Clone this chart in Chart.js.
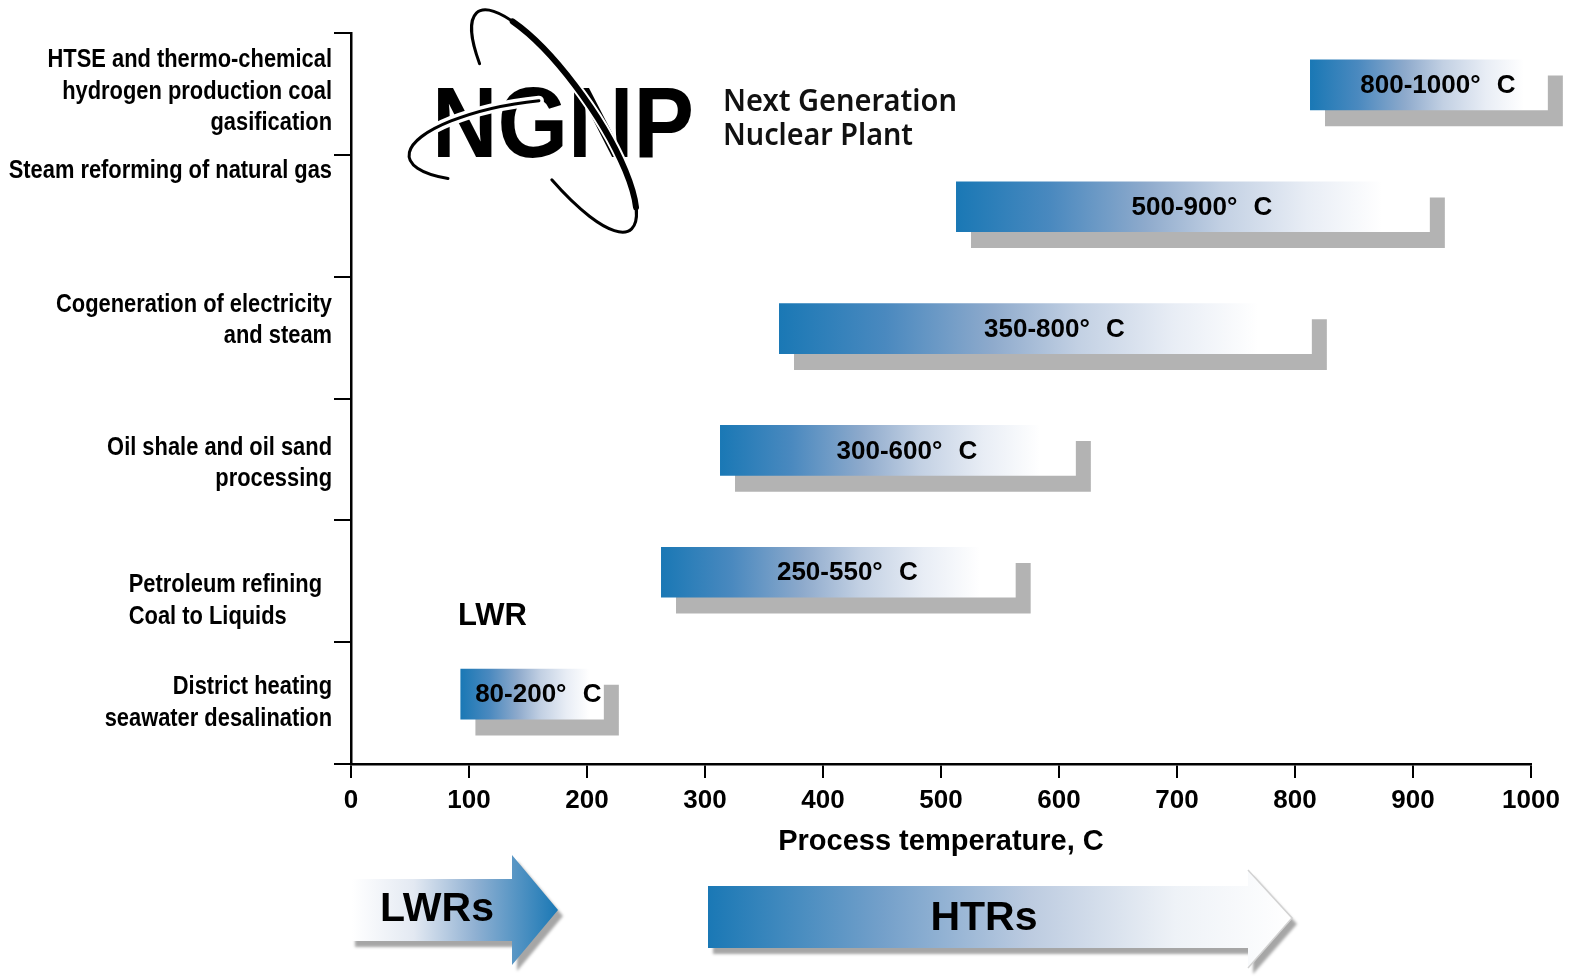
<!DOCTYPE html>
<html>
<head>
<meta charset="utf-8">
<script src="https://cdn.jsdelivr.net/npm/chart.js@4.4.1/dist/chart.umd.min.js"></script>
<style>
  html, body { margin: 0; padding: 0; background: #fff; }
  #wrap { width: 1576px; height: 980px; }
</style>
</head>
<body>
<div id="wrap"><canvas id="chart" width="1576" height="980"></canvas></div>
<script>
// Process heat applications, top to bottom
const applications = [
  ['HTSE and thermo-chemical', 'hydrogen production coal', 'gasification'],
  ['Steam reforming of natural gas'],
  ['Cogeneration of electricity', 'and steam'],
  ['Oil shale and oil sand', 'processing'],
  ['Petroleum refining', 'Coal to Liquids'],
  ['District heating', 'seawater desalination']
];

// bar ends as drawn (C)
const rangeStart = [813, 513, 363, 313, 263, 93];
const rangeEnd = [1014, 914, 814, 614, 563, 214];

// text printed on each bar
const rangeText = ['800-1000° C', '500-900° C', '350-800° C', '300-600° C', '250-550° C', '80-200° C'];

// temperature axis
const tempMin = 0;
const tempMax = 1000;
const tempStep = 100;

const SANS = '"Liberation Sans", Arial, sans-serif';
const BLUE = '#1a78b5';
const BAR_LIFT = -9;
// category label placement: vertical nudge (px) and which labels are left aligned
const labelNudge = [-2, -45, -17, 4, 20, 0];
const labelLeftAligned = [false, false, false, false, true, false];
const LABEL_SQUEEZE = 0.875;
const LABEL_LINE = 31.5;

/**
 * Blue-to-white fill running along each bar
 */
function barGradient(context) {
  const chart = context.chart;
  if (!chart.chartArea || !context.raw) return BLUE;
  const x0 = chart.scales.x.getPixelForValue(context.raw[0]);
  const x1 = chart.scales.x.getPixelForValue(context.raw[1]);
  const g = chart.ctx.createLinearGradient(x0, 0, x1, 0);
  g.addColorStop(0, BLUE);
  g.addColorStop(0.2, '#4a89bf');
  g.addColorStop(0.4, '#8eaacc');
  g.addColorStop(0.56, '#c2d0e3');
  g.addColorStop(0.74, '#e8edf5');
  g.addColorStop(0.9, '#ffffff');
  g.addColorStop(1, '#ffffff');
  return g;
}

/**
 * Grey drop shadow behind the bars plus the range text on them
 */
const barShadow = {
  id: 'barShadow',
  beforeDatasetsDraw(chart) {
    const ctx = chart.ctx;
    const dpr = chart.currentDevicePixelRatio || 1;
    ctx.save();
    ctx.translate(0, BAR_LIFT);
    ctx.shadowColor = '#b3b3b3';
    ctx.shadowBlur = 0;
    ctx.shadowOffsetX = 15 * dpr;
    ctx.shadowOffsetY = 16 * dpr;
  },
  afterDatasetsDraw(chart) {
    const ctx = chart.ctx;
    ctx.restore();

    const meta = chart.getDatasetMeta(0);
    ctx.save();
    ctx.font = 'bold 26px ' + SANS;
    ctx.fillStyle = '#000';
    ctx.textAlign = 'center';
    ctx.textBaseline = 'middle';
    ctx.wordSpacing = '9px';
    meta.data.forEach((bar, i) => {
      const { x, base, y } = bar.getProps(['x', 'base', 'y'], true);
      const w = ctx.measureText(rangeText[i]).width;
      const shift = Math.min(9, (x - base - w) / 2 - 2);
      ctx.fillText(rangeText[i], (x + base) / 2 + shift, y + BAR_LIFT + 1);
    });
    ctx.restore();
  }
};

/**
 * Category labels in a condensed bold face, placed from the y scale
 */
const categoryLabels = {
  id: 'categoryLabels',
  afterDraw(chart) {
    const ctx = chart.ctx;
    const yScale = chart.scales.y;
    const right = yScale.right - 19;
    ctx.save();
    ctx.font = 'bold 25px ' + SANS;
    ctx.fillStyle = '#000';
    ctx.textBaseline = 'middle';
    applications.forEach((lines, i) => {
      const yc = yScale.getPixelForValue(i) + labelNudge[i];
      const y0 = yc - (lines.length - 1) / 2 * LABEL_LINE;
      const widest = Math.max(...lines.map(l => ctx.measureText(l).width));
      ctx.save();
      ctx.translate(right, 0);
      ctx.scale(LABEL_SQUEEZE, 1);
      lines.forEach((line, k) => {
        if (labelLeftAligned[i]) {
          ctx.textAlign = 'left';
          ctx.fillText(line, -widest - 10 / LABEL_SQUEEZE, y0 + k * LABEL_LINE);
        } else {
          ctx.textAlign = 'right';
          ctx.fillText(line, 0, y0 + k * LABEL_LINE);
        }
      });
      ctx.restore();
    });
    ctx.restore();
  }
};

/**
 * NGNP logo
 */
function drawLogo(ctx) {
  ctx.save();
  ctx.fillStyle = '#000';
  ctx.textAlign = 'left';
  ctx.textBaseline = 'alphabetic';
  ctx.font = 'bold 100px ' + SANS;
  ctx.fillText('NGNP', 432, 157, 262);

  const rings = (lw, color) => {
    ctx.strokeStyle = color;
    ctx.lineWidth = lw;
    ctx.lineCap = 'round';
    ctx.beginPath();
    ctx.ellipse(554, 121, 133, 38, 55 * Math.PI / 180, 2.31, 1.21);
    ctx.stroke();
    ctx.beginPath();
    ctx.ellipse(530, 140, 122, 38, -8 * Math.PI / 180, 4.83, 2.36, true);
    ctx.stroke();
  };
  rings(10, '#fff');
  rings(3, '#000');
  ctx.lineWidth = 6;
  ctx.beginPath();
  ctx.ellipse(554, 121, 133, 38, 55 * Math.PI / 180, 3.8, 5.8);
  ctx.stroke();

  ctx.font = '600 30px "Noto Sans", "Open Sans", sans-serif';
  ctx.fillStyle = '#111';
  ctx.fillText('Next Generation', 723, 111, 234);
  ctx.fillText('Nuclear Plant', 723, 145, 190);
  ctx.restore();
}

/**
 * LWRs / HTRs arrows under the axis
 */
function drawArrows(ctx, dpr) {
  // LWRs: white to blue
  ctx.save();
  let g = ctx.createLinearGradient(352, 0, 558, 0);
  g.addColorStop(0, '#ffffff');
  g.addColorStop(0.3, '#e3e9f2');
  g.addColorStop(0.6, '#8fb0d2');
  g.addColorStop(1, BLUE);
  ctx.fillStyle = g;
  ctx.shadowColor = 'rgba(0,0,0,0.35)';
  ctx.shadowOffsetX = 5 * dpr;
  ctx.shadowOffsetY = 6 * dpr;
  ctx.shadowBlur = 3 * dpr;
  ctx.beginPath();
  ctx.moveTo(350, 879);
  ctx.lineTo(512, 879);
  ctx.lineTo(512, 855);
  ctx.lineTo(558, 910);
  ctx.lineTo(512, 965);
  ctx.lineTo(512, 941);
  ctx.lineTo(350, 941);
  ctx.closePath();
  ctx.fill();
  ctx.restore();

  // HTRs: blue to white
  ctx.save();
  g = ctx.createLinearGradient(708, 0, 1292, 0);
  g.addColorStop(0, BLUE);
  g.addColorStop(0.3, '#74a0ca');
  g.addColorStop(0.55, '#bccbe0');
  g.addColorStop(0.8, '#eef2f7');
  g.addColorStop(1, '#ffffff');
  ctx.fillStyle = g;
  ctx.shadowColor = 'rgba(0,0,0,0.35)';
  ctx.shadowOffsetX = 5 * dpr;
  ctx.shadowOffsetY = 6 * dpr;
  ctx.shadowBlur = 3 * dpr;
  ctx.beginPath();
  ctx.moveTo(708, 886);
  ctx.lineTo(1248, 886);
  ctx.lineTo(1248, 870);
  ctx.lineTo(1292, 918);
  ctx.lineTo(1248, 968);
  ctx.lineTo(1248, 948);
  ctx.lineTo(708, 948);
  ctx.closePath();
  ctx.fill();
  ctx.restore();
  ctx.save();
  ctx.strokeStyle = '#d2d2d2';
  ctx.lineWidth = 1.5;
  ctx.beginPath();
  ctx.moveTo(1248, 870);
  ctx.lineTo(1292, 918);
  ctx.lineTo(1248, 968);
  ctx.stroke();
  ctx.restore();

  ctx.save();
  ctx.fillStyle = '#000';
  ctx.font = 'bold 41px ' + SANS;
  ctx.textAlign = 'center';
  ctx.textBaseline = 'middle';
  ctx.fillText('LWRs', 437, 910);
  ctx.fillText('HTRs', 984, 919);
  ctx.restore();
}

const decorations = {
  id: 'decorations',
  afterDraw(chart) {
    const ctx = chart.ctx;
    drawLogo(ctx);
    drawArrows(ctx, chart.currentDevicePixelRatio || 1);
    ctx.save();
    ctx.fillStyle = '#000';
    ctx.font = 'bold 31px ' + SANS;
    ctx.textAlign = 'left';
    ctx.textBaseline = 'middle';
    ctx.fillText('LWR', 458, 616);
    ctx.restore();
  }
};

new Chart(document.getElementById('chart'), {
  type: 'bar',
  data: {
    labels: applications,
    datasets: [{
      data: rangeStart.map((s, i) => [s, rangeEnd[i]]),
      backgroundColor: barGradient,
      borderWidth: 0,
      barThickness: 50,
      clip: false
    }]
  },
  options: {
    indexAxis: 'y',
    responsive: false,
    animation: false,
    layout: { padding: { top: 33, right: 45, bottom: 121, left: 0 } },
    plugins: {
      legend: { display: false },
      tooltip: { enabled: false }
    },
    scales: {
      x: {
        min: tempMin,
        max: tempMax,
        ticks: {
          stepSize: tempStep,
          color: '#000',
          padding: 7,
          font: { family: SANS, size: 26, weight: 'bold' },
          callback: v => String(v)
        },
        grid: { drawOnChartArea: false, tickLength: 14, color: '#000', lineWidth: 2 },
        border: { color: '#000', width: 2.5 },
        title: {
          display: true,
          text: 'Process temperature, C',
          color: '#000',
          padding: { top: 2, bottom: 0 },
          font: { family: SANS, size: 29, weight: 'bold' }
        },
        afterFit(scale) {
          scale.height = 95;
        }
      },
      y: {
        ticks: { display: false },
        grid: { offset: true, drawOnChartArea: false, tickLength: 17, color: '#000', lineWidth: 2 },
        border: { color: '#000', width: 2.5 },
        afterFit(scale) {
          scale.width = 351;
          scale.paddingTop = 0;
          scale.paddingBottom = 0;
        }
      }
    }
  },
  plugins: [barShadow, categoryLabels, decorations]
});
</script>
</body>
</html>
